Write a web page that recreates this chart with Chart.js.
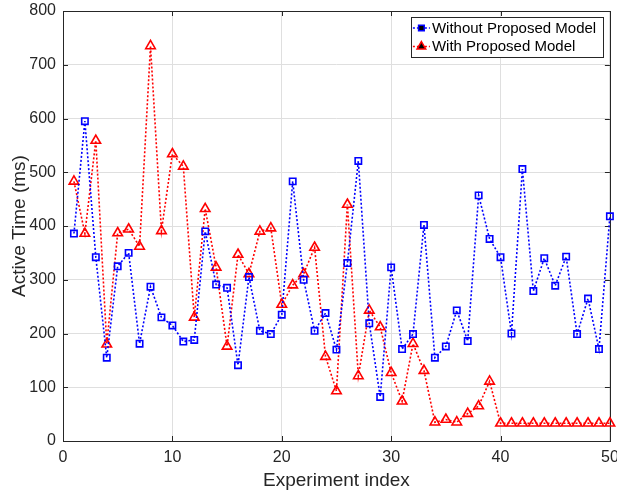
<!DOCTYPE html>
<html>
<head>
<meta charset="utf-8">
<title>Active Time per Experiment</title>
<script src="https://cdn.jsdelivr.net/npm/chart.js@4.4.1/dist/chart.umd.min.js"></script>
<style>
  html, body { margin: 0; padding: 0; background: #ffffff; }
  #wrap { width: 617px; height: 495px; }
</style>
</head>
<body>
<div id="wrap"><canvas id="chart" width="617" height="495"></canvas></div>
<script>
// Experiment indices 1..50
const experimentIndex = [
  1, 2, 3, 4, 5, 6, 7, 8, 9, 10,
  11, 12, 13, 14, 15, 16, 17, 18, 19, 20,
  21, 22, 23, 24, 25, 26, 27, 28, 29, 30,
  31, 32, 33, 34, 35, 36, 37, 38, 39, 40,
  41, 42, 43, 44, 45, 46, 47, 48, 49, 50
];

// Active time (ms) without the proposed model
const withoutModel = [
  386, 595, 342, 155, 325, 350, 181, 287, 230, 215,
  185, 188, 390, 291, 285, 141, 305, 205, 199, 235,
  483, 300, 205, 238, 170, 331, 521, 219, 82, 323,
  171, 199, 402, 155, 176, 243, 186, 457, 376, 342,
  200, 506, 279, 340, 289, 343, 199, 265, 171, 418
];

// Active time (ms) with the proposed model
const withModel = [
  483, 386, 559, 180, 387, 394, 362, 735, 391, 534,
  511, 230, 432, 323, 176, 347, 311, 390, 396, 254,
  290, 311, 360, 157, 93, 440, 121, 243, 212, 127,
  74, 181, 131, 35, 40, 35, 51, 65, 111, 33,
  33, 33, 33, 33, 33, 33, 33, 33, 33, 33
];

const seriesNames = ['Without Proposed Model', 'With Proposed Model'];
const xTickValues = [0, 10, 20, 30, 40, 50];
const yTickValues = [0, 100, 200, 300, 400, 500, 600, 700, 800];

const axisColor = '#262626';
const gridColor = '#dfdfdf';
const fontFamily = '"Liberation Sans", Arial, Helvetica, sans-serif';

const toPoints = (ys) => experimentIndex.map((x, i) => ({ x: x, y: ys[i] }));

// Frame around the plot area plus inward tick marks on all four sides
const framePlugin = {
  id: 'frame',
  beforeDatasetsDraw(chart) {
    const { ctx, chartArea: a, scales } = chart;
    ctx.save();
    ctx.strokeStyle = axisColor;
    ctx.lineWidth = 1;
    const tl = 5;
    ctx.beginPath();
    xTickValues.forEach(v => {
      const px = Math.round(scales.x.getPixelForValue(v)) + 0.5;
      ctx.moveTo(px, a.bottom); ctx.lineTo(px, a.bottom - tl);
      ctx.moveTo(px, a.top); ctx.lineTo(px, a.top + tl);
    });
    yTickValues.forEach(v => {
      const py = Math.round(scales.y.getPixelForValue(v)) + 0.5;
      ctx.moveTo(a.left, py); ctx.lineTo(a.left + tl, py);
      ctx.moveTo(a.right, py); ctx.lineTo(a.right - tl, py);
    });
    ctx.stroke();
    ctx.strokeRect(Math.round(a.left) + 0.5, Math.round(a.top) + 0.5,
                   Math.round(a.right - a.left), Math.round(a.bottom - a.top));
    ctx.restore();
  }
};

// Boxed legend in the upper-right corner of the plot area
const boxLegendPlugin = {
  id: 'boxLegend',
  afterDraw(chart) {
    const { ctx, chartArea: a } = chart;
    const boxW = 192, boxH = 40;
    const bx = a.right - 7 - boxW;
    const by = a.top + 6;
    ctx.save();
    ctx.fillStyle = '#ffffff';
    ctx.fillRect(bx, by, boxW, boxH);
    ctx.strokeStyle = axisColor;
    ctx.lineWidth = 1;
    ctx.strokeRect(Math.round(bx) + 0.5, Math.round(by) + 0.5, boxW, boxH);
    ctx.font = '15px ' + fontFamily;
    ctx.textBaseline = 'middle';
    ctx.fillStyle = '#000000';
    chart.data.datasets.forEach((ds, i) => {
      const cy = by + 11 + i * 18.5;
      const lx0 = bx + 2, lx1 = bx + 19, mx = bx + 10.5;
      ctx.strokeStyle = ds.borderColor;
      ctx.lineWidth = 1.5;
      ctx.setLineDash([2, 2]);
      ctx.beginPath();
      ctx.moveTo(lx0, cy); ctx.lineTo(lx1, cy);
      ctx.stroke();
      ctx.setLineDash([]);
      Chart.helpers.drawPoint(ctx, {
        pointStyle: ds.pointStyle,
        radius: ds.pointRadius - 0.5,
        rotation: 0,
        borderWidth: ds.pointBorderWidth
      }, mx, cy);
      ctx.fillStyle = '#000000';
      ctx.fillText(ds.label, bx + 21, cy + 0.5);
    });
    ctx.restore();
  }
};

const ctx = document.getElementById('chart').getContext('2d');
new Chart(ctx, {
  type: 'line',
  data: {
    datasets: [
      {
        label: seriesNames[0],
        data: toPoints(withoutModel),
        borderColor: '#0000ff',
        backgroundColor: 'rgba(0,0,0,0)',
        borderWidth: 1.6,
        borderDash: [2, 2],
        pointStyle: 'rect',
        pointRadius: 4.5,
        pointBorderWidth: 1.6,
        pointBorderColor: '#0000ff',
        pointBackgroundColor: 'rgba(0,0,0,0)',
        tension: 0,
        clip: false
      },
      {
        label: seriesNames[1],
        data: toPoints(withModel),
        borderColor: '#ff0000',
        backgroundColor: 'rgba(0,0,0,0)',
        borderWidth: 1.6,
        borderDash: [2, 2],
        pointStyle: 'triangle',
        pointRadius: 5.5,
        pointBorderWidth: 1.6,
        pointBorderColor: '#ff0000',
        pointBackgroundColor: 'rgba(0,0,0,0)',
        tension: 0,
        clip: false
      }
    ]
  },
  options: {
    responsive: false,
    animation: false,
    devicePixelRatio: 1,
    layout: { padding: { left: 0, right: 6, top: 11, bottom: 0 } },
    plugins: {
      legend: { display: false },
      tooltip: { enabled: false }
    },
    scales: {
      x: {
        type: 'linear',
        min: 0,
        max: 50,
        afterBuildTicks(scale) { scale.ticks = xTickValues.map(v => ({ value: v })); },
        afterFit(scale) {
          scale.height = 54;
          scale.paddingLeft = 0; scale.paddingRight = 0;
        },
        grid: { color: gridColor, drawTicks: false, lineWidth: 1 },
        border: { display: false },
        ticks: {
          color: axisColor,
          padding: 7,
          maxRotation: 0,
          autoSkip: false,
          font: { family: fontFamily, size: 16 }
        },
        title: {
          display: true,
          text: 'Experiment index',
          color: axisColor,
          font: { family: fontFamily, size: 19 },
          padding: { top: 0, bottom: 3 }
        }
      },
      y: {
        type: 'linear',
        min: 0,
        max: 800,
        afterBuildTicks(scale) { scale.ticks = yTickValues.map(v => ({ value: v })); },
        afterFit(scale) {
          scale.width = 63;
          scale.paddingTop = 0; scale.paddingBottom = 0;
        },
        grid: { color: gridColor, drawTicks: false, lineWidth: 1 },
        border: { display: false },
        ticks: {
          color: axisColor,
          padding: 7,
          autoSkip: false,
          font: { family: fontFamily, size: 16 }
        },
        title: {
          display: true,
          text: 'Active Time (ms)',
          color: axisColor,
          font: { family: fontFamily, size: 19 },
          padding: { top: 8, bottom: 0 }
        }
      }
    }
  },
  plugins: [framePlugin, boxLegendPlugin]
});
</script>
</body>
</html>
